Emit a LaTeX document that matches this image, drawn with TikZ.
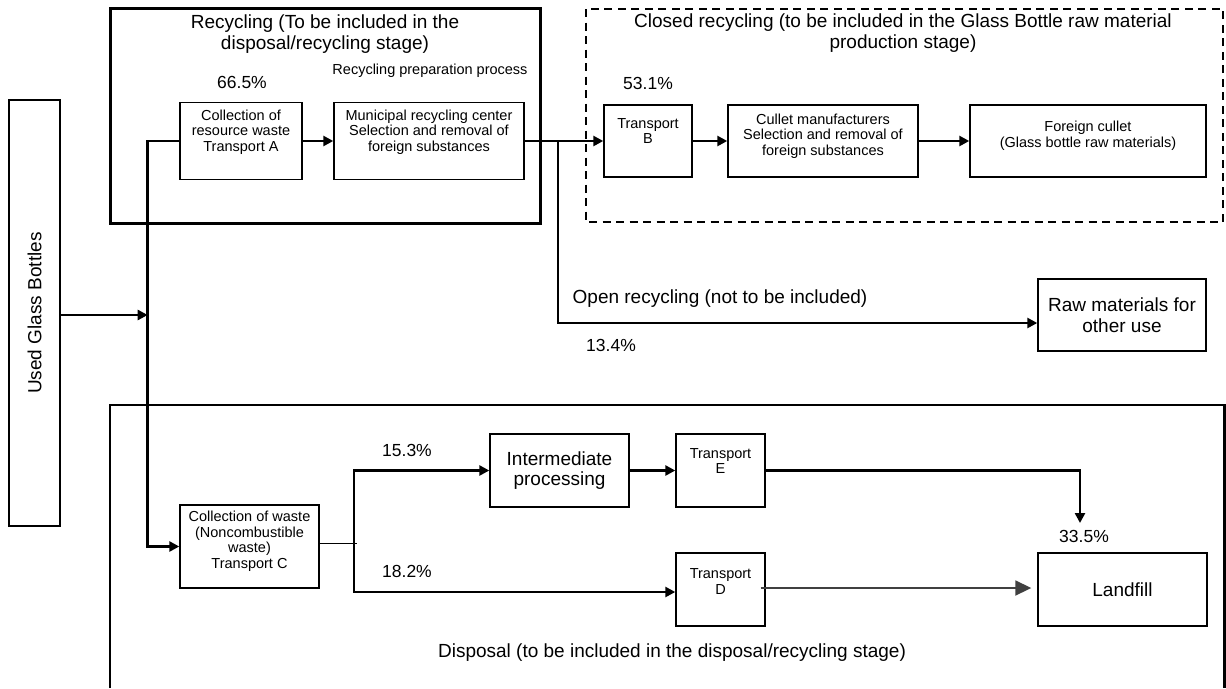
\documentclass[tikz,border=0pt]{standalone}
\usepackage{fontspec}
\setmainfont{Liberation Sans}
\usepackage{xcolor}
\usepackage{tikz}
\usetikzlibrary{arrows.meta}

\definecolor{tipgray}{HTML}{404040}

\tikzset{
  box/.style={draw, line width=1.4pt, inner sep=0pt},
  big/.style={font=\fontsize{19}{20.5}\selectfont, align=center},
  small/.style={font=\fontsize{14.5}{15.5}\selectfont, align=center},
  pct/.style={font=\fontsize{17.5}{19}\selectfont},
  line/.style={line width=2.6pt},
  flow/.style={line width=2.6pt, -{Triangle[length=10pt,width=10pt]}},
}

\begin{document}
\begin{tikzpicture}[x=1pt,y=-1pt]
    \useasboundingbox (0,0) rectangle (1226,688);
    % frames
    \draw[line width=3pt] (110,8) rectangle (540,223);
    \draw[line width=2.6pt, dash pattern=on 8pt off 5.5pt] (586,9) rectangle (1223,222);
    \draw[line width=2.6pt] (110,688) |- (1224.5,405) -- (1224.5,688);
    \node[big] (rectitle) at (325,34) {Recycling (To be included in the\\disposal/recycling stage)};
    \node[big] (closedtitle) at (903,33) {Closed recycling (to be included in the Glass Bottle raw material\\production stage)};
    \node[small] (preptitle) at (430,71) {Recycling preparation process};
    \node[big] (opentitle) at (720,299) {Open recycling (not to be included)};
    \node[big] (disptitle) at (672,653) {Disposal (to be included in the disposal/recycling stage)};
    % percentages
    \node[pct] (p665) at (242,82) {66.5\%};
    \node[pct] (p531) at (648,83) {53.1\%};
    \node[pct] (p134) at (611,345) {13.4\%};
    \node[pct] (p153) at (407,450) {15.3\%};
    \node[pct] (p182) at (407,571) {18.2\%};
    \node[pct] (p335) at (1084,536) {33.5\%};
    % used bottles
    \node[box, big, rotate=90, minimum width=426pt, minimum height=51pt] (bottles) at (34.5,313) {Used Glass Bottles};
    % recycling row
    \node[box, minimum width=122pt, minimum height=77pt] (collA) at (241,141) {};
    \node[small] (collAtext) at (241,132) {Collection of\\resource waste\\Transport A};
    \node[box, minimum width=190pt, minimum height=77pt] (muni) at (429,141) {};
    \node[small] (munitext) at (429,132) {Municipal recycling center\\Selection and removal of\\foreign substances};
    \node[box, minimum width=88pt, minimum height=72pt] (transB) at (648,141) {};
    \node[small] (transBtext) at (648,131) {Transport\\B};
    \node[box, minimum width=190pt, minimum height=72pt] (cullet) at (823,141) {};
    \node[small] (cullettext) at (823,136) {Cullet manufacturers\\Selection and removal of\\foreign substances};
    \node[box, minimum width=236pt, minimum height=72pt] (foreign) at (1088,141) {};
    \node[small] (foreigntext) at (1088,135.5) {Foreign cullet\\(Glass bottle raw materials)};
    \node[box, big, minimum width=168pt, minimum height=72pt] (raw) at (1122,315) {Raw materials for\\other use};
    % disposal row
    \node[box, minimum width=139pt, minimum height=83pt] (collW) at (249.5,546.5) {};
    \node[small] (collWtext) at (249.5,541) {Collection of waste\\(Noncombustible\\waste)\\Transport C};
    \node[box, big, minimum width=139pt, minimum height=73pt] (inter) at (559.5,470.5) {Intermediate\\processing};
    \node[box, minimum width=89pt, minimum height=73pt] (transE) at (720.5,470.5) {};
    \node[small] (transEtext) at (720.5,461) {Transport\\E};
    \node[box, minimum width=89pt, minimum height=73pt] (transD) at (720.5,589.5) {};
    \node[small] (transDtext) at (720.5,581.5) {Transport\\D};
    \node[box, big, minimum width=169pt, minimum height=73pt] (landfill) at (1122.5,589.5) {Landfill};
    % connectors
    \coordinate (split) at (147.7,315);
    \coordinate (branch) at (558,141);
    \coordinate (fork) at (354,543);
    \coordinate (dropE) at (1080,523);
    \draw[flow] (bottles.south |- split) -- (split);
    \draw[flow] (collA.west) -| (split) |- (collW.west);
    \draw[flow] (collA) -- (muni);
    \draw[flow] (muni) -- (transB);
    \draw[flow] (transB) -- (cullet);
    \draw[flow] (cullet) -- (foreign);
    \draw[flow] (branch) |- ([yshift=-8pt]raw.west);
    \draw[line width=1pt] (collW.east |- fork) -- ([xshift=3pt]fork);
    \draw[flow] (fork) |- (inter.west);
    \draw[flow] (fork) |- ([yshift=-2.5pt]transD.west);
    \draw[flow] (inter) -- (transE);
    \draw[flow] (transE.east) -| (dropE);
    \draw[line width=1.8pt, tipgray, -{Triangle[length=16pt,width=15pt]}] ([xshift=-5pt,yshift=1.5pt]transD.east) -- ([xshift=-6pt,yshift=1.5pt]landfill.west);
\end{tikzpicture}
\end{document}
